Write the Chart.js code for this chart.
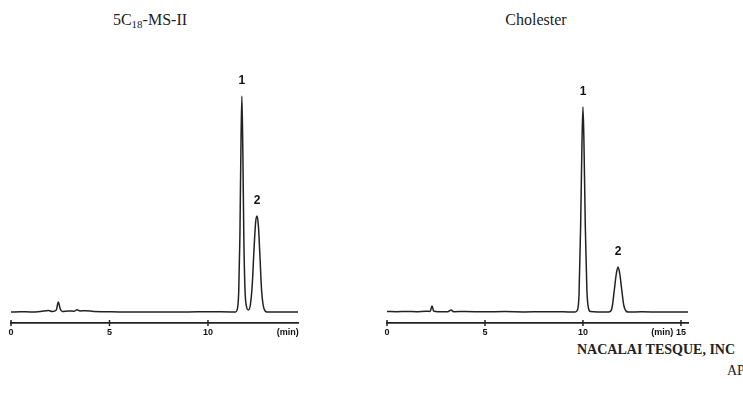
<!DOCTYPE html>
<html lang="en">
<head>
<meta charset="UTF-8">
<title>Chromatograms</title>
<script src="https://cdn.jsdelivr.net/npm/chart.js@4.4.0/dist/chart.umd.min.js"></script>
<style>
	html, body { margin: 0; padding: 0; background: #fff; }
	body { width: 743px; height: 394px; position: relative; overflow: hidden; }
	canvas { position: absolute; top: 0; }
	.txt { position: absolute; font-family: "Liberation Serif", "Times New Roman", serif; color: #222; white-space: nowrap; line-height: 16px; }
	.title { font-size: 16px; text-align: center; }
	sub { font-size: 11px; vertical-align: -3px; line-height: 0; }
</style>
</head>
<body>

<div class="txt title" style="left:0; top:12px; width:300px;">5C<sub>18</sub>-MS-II</div>
<div class="txt title" style="left:436px; top:12px; width:200px;">Cholester</div>
<div class="txt" style="left:577px; top:342px; font-size:14px; font-weight:bold;">NACALAI TESQUE, INC</div>
<div class="txt" style="left:727px; top:363px; font-size:14px;">AP</div>

<canvas id="left" width="310" height="345" style="left:0;"></canvas>
<canvas id="right" width="330" height="345" style="left:370px;"></canvas>

<script>
	// retention time (min) / detector response
	const leftTimes = [0, 0.5, 1.0, 1.5, 1.9, 2.1, 2.3, 2.4, 2.5, 2.6, 2.9, 3.2, 3.35, 3.5, 3.8, 4.2, 4.8, 5.5, 7, 9, 10, 11.3,
		11.4, 11.5, 11.56, 11.62, 11.67, 11.72, 11.77, 11.82, 11.88, 11.95, 12.05, 12.15, 12.25, 12.33, 12.42, 12.49, 12.56, 12.64, 12.72, 12.8, 12.9, 13.0, 14.57]
	const leftSignal = [0, 0.3, 0, 0.5, 1.5, 0.5, 2, 10, 3, 0.5, 1, 0.8, 2.2, 1, 1.3, 0.5, 0.3, 0, 0, 0, 0.3, 0,
		0, 4, 20, 75, 160, 216, 160, 75, 22, 6, 2, 7, 28, 60, 90, 96, 86, 55, 22, 7, 1, 0, 0]

	const rightTimes = [0, 0.5, 1.0, 1.5, 2.0, 2.2, 2.3, 2.38, 2.6, 3.1, 3.27, 3.4, 4, 5, 6, 7, 8, 9, 9.6,
		9.72, 9.8, 9.88, 9.95, 10.0, 10.05, 10.12, 10.2, 10.28, 10.38, 11.3,
		11.42, 11.5, 11.6, 11.7, 11.79, 11.88, 11.98, 12.08, 12.18, 12.3, 13, 14, 15.36]
	const rightSignal = [0.5, 0.3, 0.6, 0.3, 0.8, 0.5, 6, 1, 0.3, 0.3, 2, 0.3, 0.5, 0.2, 0.4, 0.1, 0.3, 0.2, 0,
		2, 18, 85, 170, 205, 170, 85, 22, 4, 0.5, 0,
		1, 6, 22, 38, 45, 38, 22, 7, 1.5, 0, 0.2, 0, 0]

	const leftTicks = [0, 5, 10]
	const rightTicks = [0, 5, 10, 15]
	const unitPos = 14.05 // where "(min)" sits on the axis

	const leftPeaks = { names: ['1', '2'], times: [11.72, 12.49], heights: [216, 96] }
	const rightPeaks = { names: ['1', '2'], times: [10.0, 11.79], heights: [205, 45] }

	// tick marks across the axis + peak numbers
	const chromPlugin = {
		id: 'chrom',
		afterDraw(chart, args, opts) {
			const ctx = chart.ctx
			const x = chart.scales.x, y = chart.scales.y
			ctx.save()
			ctx.strokeStyle = '#222'
			ctx.lineWidth = 1.5
			opts.tickValues.forEach(v => {
				const px = x.getPixelForValue(v)
				ctx.beginPath()
				ctx.moveTo(px, x.top - 3)
				ctx.lineTo(px, x.top + 3)
				ctx.stroke()
			})
			ctx.fillStyle = '#111'
			ctx.font = 'bold 12px "Liberation Sans", Arial, sans-serif'
			ctx.textAlign = 'center'
			ctx.textBaseline = 'middle'
			opts.peaks.names.forEach((n, i) => {
				const px = x.getPixelForValue(opts.peaks.times[i])
				const py = y.getPixelForValue(opts.peaks.heights[i])
				ctx.fillText(n, px, py - 15)
			})
			ctx.restore()
		}
	}

	function makeChart(id, times, signal, ticks, xMax, peaks, pad) {
		const points = times.map((t, i) => ({ x: t, y: signal[i] }))
		return new Chart(document.getElementById(id), {
			type: 'line',
			data: {
				datasets: [{
					data: points,
					borderColor: '#222',
					borderWidth: 1.5,
					pointRadius: 0,
					cubicInterpolationMode: 'monotone',
					fill: false
				}]
			},
			plugins: [chromPlugin],
			options: {
				responsive: false,
				animation: false,
				devicePixelRatio: 1,
				layout: { padding: { left: pad[0], right: pad[1], top: 60, bottom: 2 } },
				scales: {
					x: {
						type: 'linear',
						min: 0,
						max: xMax,
						afterBuildTicks: s => {
							s.ticks = ticks.map(v => ({ value: v })).concat([{ value: unitPos }])
						},
						afterFit: s => { s.height = 20 },
						ticks: {
							autoSkip: false,
							maxRotation: 0,
							padding: 4,
							color: '#111',
							font: { family: '"Liberation Sans", Arial, sans-serif', size: 9, weight: 'bold' },
							callback: v => v === unitPos ? '(min)' : v
						},
						grid: { display: false, drawTicks: false, tickLength: 0 },
						border: { display: true, color: '#222', width: 1.8 }
					},
					y: {
						display: false,
						min: -11,
						max: 252
					}
				},
				plugins: {
					legend: { display: false },
					tooltip: { enabled: false },
					chrom: { tickValues: ticks, peaks: peaks }
				}
			}
		})
	}

	makeChart('left', leftTimes, leftSignal, leftTicks, 14.57, leftPeaks, [11, 12])
	makeChart('right', rightTimes, rightSignal, rightTicks, 15.36, rightPeaks, [17, 12])
</script>

</body>
</html>
